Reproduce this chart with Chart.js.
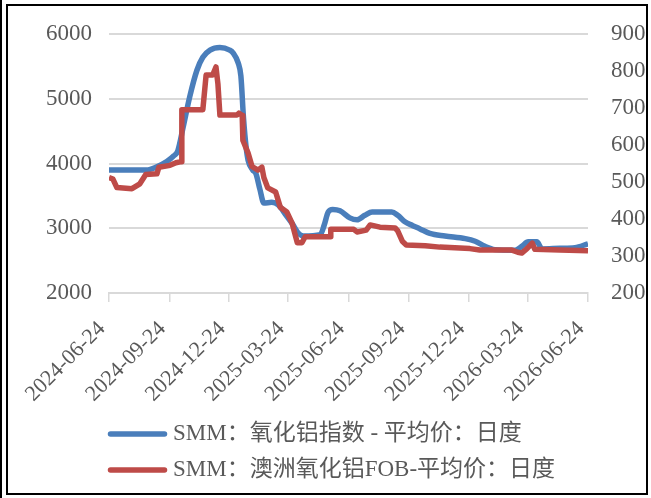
<!DOCTYPE html>
<html>
<head>
<meta charset="utf-8">
<script src="https://cdn.jsdelivr.net/npm/chart.js@4.4.1/dist/chart.umd.min.js"></script>
<style>
  body { margin: 0; background: #fff; }
</style>
</head>
<body>
<canvas id="myChart" width="651" height="498"></canvas>
<script>
let xTickLabels = ['2024-06-24', '2024-09-24', '2024-12-24', '2025-03-24', '2025-06-24',
  '2025-09-24', '2025-12-24', '2026-03-24', '2026-06-24']

let labels = ['SMM：氧化铝指数 - 平均价：日度', 'SMM：澳洲氧化铝FOB-平均价：日度']

// SMM氧化铝指数 (axe de gauche)
let blueDates = ['2024-06-24', '2024-08-20', '2024-09-05', '2024-09-20', '2024-10-01', '2024-10-07',
  '2024-10-15', '2024-10-25', '2024-11-05', '2024-11-14', '2024-11-25', '2024-12-10', '2024-12-25',
  '2024-12-30', '2025-01-07', '2025-01-11', '2025-01-15', '2025-01-19', '2025-01-22', '2025-01-29',
  '2025-02-03', '2025-02-09', '2025-02-15', '2025-02-27', '2025-03-09', '2025-03-21', '2025-03-31',
  '2025-04-08', '2025-04-16', '2025-05-12', '2025-05-18', '2025-05-24', '2025-05-31', '2025-06-11',
  '2025-06-26', '2025-07-07', '2025-07-19', '2025-07-30', '2025-08-29', '2025-09-07', '2025-09-18',
  '2025-09-30', '2025-10-11', '2025-10-26', '2025-11-18', '2025-12-19', '2026-01-03', '2026-01-18',
  '2026-02-02', '2026-03-05', '2026-03-15', '2026-03-25', '2026-04-07', '2026-04-15', '2026-05-12',
  '2026-06-04', '2026-06-24']
let blueValues = [3900, 3900, 3950, 4030, 4120, 4200,
  4560, 5030, 5440, 5640, 5750, 5790, 5750,
  5710, 5550, 5350, 4700, 4250, 4050, 3900,
  3840, 3600, 3390, 3400, 3360, 3200, 3060,
  2930, 2880, 2900, 3050, 3250, 3290, 3270,
  3160, 3130, 3200, 3250, 3250, 3200, 3100,
  3040, 2990, 2920, 2880, 2840, 2800, 2720,
  2670, 2660, 2720, 2790, 2790, 2680, 2690,
  2700, 2760]

// SMM澳洲氧化铝FOB (axe de droite)
let redDates = ['2024-06-24', '2024-06-30', '2024-07-06', '2024-07-29', '2024-08-10', '2024-08-19',
  '2024-09-05', '2024-09-08', '2024-09-25', '2024-10-04', '2024-10-12', '2024-10-13', '2024-11-14',
  '2024-11-19', '2024-11-29', '2024-12-04', '2024-12-07', '2024-12-10', '2025-01-05', '2025-01-08',
  '2025-01-13', '2025-01-14', '2025-01-22', '2025-01-28', '2025-02-06', '2025-02-12', '2025-02-15',
  '2025-02-21', '2025-03-05', '2025-03-12', '2025-03-22', '2025-03-30', '2025-04-03', '2025-04-07',
  '2025-04-14', '2025-04-19', '2025-05-27', '2025-05-28', '2025-07-02', '2025-07-07', '2025-07-21',
  '2025-07-27', '2025-08-11', '2025-09-03', '2025-09-07', '2025-09-14', '2025-09-20', '2025-10-19',
  '2025-11-10', '2025-12-26', '2026-01-10', '2026-02-28', '2026-03-09', '2026-03-15', '2026-03-23',
  '2026-03-31', '2026-04-04', '2026-05-12', '2026-06-24']
let redValues = [512, 508, 485, 482, 495, 520,
  522, 540, 545, 552, 555, 695, 695,
  789, 789, 811, 765, 681, 681, 686,
  680, 613, 578, 542, 532, 540, 512,
  484, 473, 432, 419, 389, 362, 336,
  336, 352, 352, 372, 372, 365, 370,
  384, 378, 376, 368, 340, 330, 328,
  324, 320, 316, 316, 310, 308, 320,
  335, 318, 316, 314]

let leftTicks = [2000, 3000, 4000, 5000, 6000]
let rightTicks = [200, 300, 400, 500, 600, 700, 800, 900]

const day = (d) => (Date.parse(d) - Date.parse(xTickLabels[0])) / 86400000
const family = "'Liberation Serif', 'Noto Sans CJK SC', serif"
const grey = '#595959'

// légende et cadre dessinés à la main
const legendFrame = {
  id: 'legendFrame',
  afterDraw(chart) {
    const c = chart.ctx
    c.save()
    chart.data.datasets.forEach((ds, i) => {
      const y = 434 + i * 36
      c.strokeStyle = ds.borderColor
      c.lineWidth = 5.5
      c.lineCap = 'round'
      c.beginPath()
      c.moveTo(110.5, y)
      c.lineTo(164.5, y)
      c.stroke()
      c.fillStyle = grey
      c.font = '23px ' + family
      c.textBaseline = 'middle'
      c.fillText(ds.label, 173, y)
    })
    c.strokeStyle = '#000'
    c.lineWidth = 2
    c.strokeRect(7, 5, 640, 489)
    c.beginPath()
    c.moveTo(1, 0)
    c.lineTo(1, 498)
    c.stroke()
    c.restore()
  }
}

const ctx = document.getElementById('myChart')

new Chart(ctx, {
  type: 'line',
  data: {
    datasets: [{
      label: labels[0],
      data: blueDates.map((d, i) => ({ x: day(d), y: blueValues[i] })),
      yAxisID: 'y',
      borderColor: '#4a7ebb',
      borderWidth: 5.5,
      pointRadius: 0,
      cubicInterpolationMode: 'monotone',
      borderJoinStyle: 'round',
      order: 1
    }, {
      label: labels[1],
      data: redDates.map((d, i) => ({ x: day(d), y: redValues[i] })),
      yAxisID: 'y1',
      borderColor: '#be4b48',
      borderWidth: 5.5,
      pointRadius: 0,
      tension: 0,
      borderJoinStyle: 'round',
      order: 0
    }]
  },
  options: {
    responsive: false,
    animation: false,
    layout: { padding: { top: 34, bottom: 95 } },
    plugins: { legend: { display: false }, tooltip: { enabled: false } },
    scales: {
      x: {
        type: 'linear',
        min: day(xTickLabels[0]),
        max: day(xTickLabels[xTickLabels.length - 1]),
        afterBuildTicks: (s) => { s.ticks = xTickLabels.map((l) => ({ value: day(l) })) },
        afterFit: (s) => { s.height = 110 },
        ticks: {
          callback: (v, i) => xTickLabels[i],
          autoSkip: false,
          minRotation: 45,
          maxRotation: 45,
          padding: 14,
          labelOffset: -7,
          color: grey,
          font: { family: family, size: 22 }
        },
        grid: { drawOnChartArea: false, color: '#d9d9d9', lineWidth: 1.5, tickLength: 9 },
        border: { color: '#d9d9d9', width: 2 }
      },
      y: {
        position: 'left',
        min: leftTicks[0],
        max: leftTicks[leftTicks.length - 1],
        afterBuildTicks: (s) => { s.ticks = leftTicks.map((v) => ({ value: v })) },
        afterFit: (s) => { s.width = 109 },
        ticks: { callback: (v) => String(v), padding: 17, color: grey, font: { family: family, size: 23 } },
        grid: { color: '#d9d9d9', lineWidth: 2, drawTicks: false },
        border: { display: false }
      },
      y1: {
        position: 'right',
        min: rightTicks[0],
        max: rightTicks[rightTicks.length - 1],
        afterBuildTicks: (s) => { s.ticks = rightTicks.map((v) => ({ value: v })) },
        afterFit: (s) => { s.width = 63 },
        ticks: { callback: (v) => String(v), padding: 15, color: grey, font: { family: family, size: 23 } },
        grid: { display: false },
        border: { display: false }
      }
    }
  },
  plugins: [legendFrame]
})
</script>
</body>
</html>
